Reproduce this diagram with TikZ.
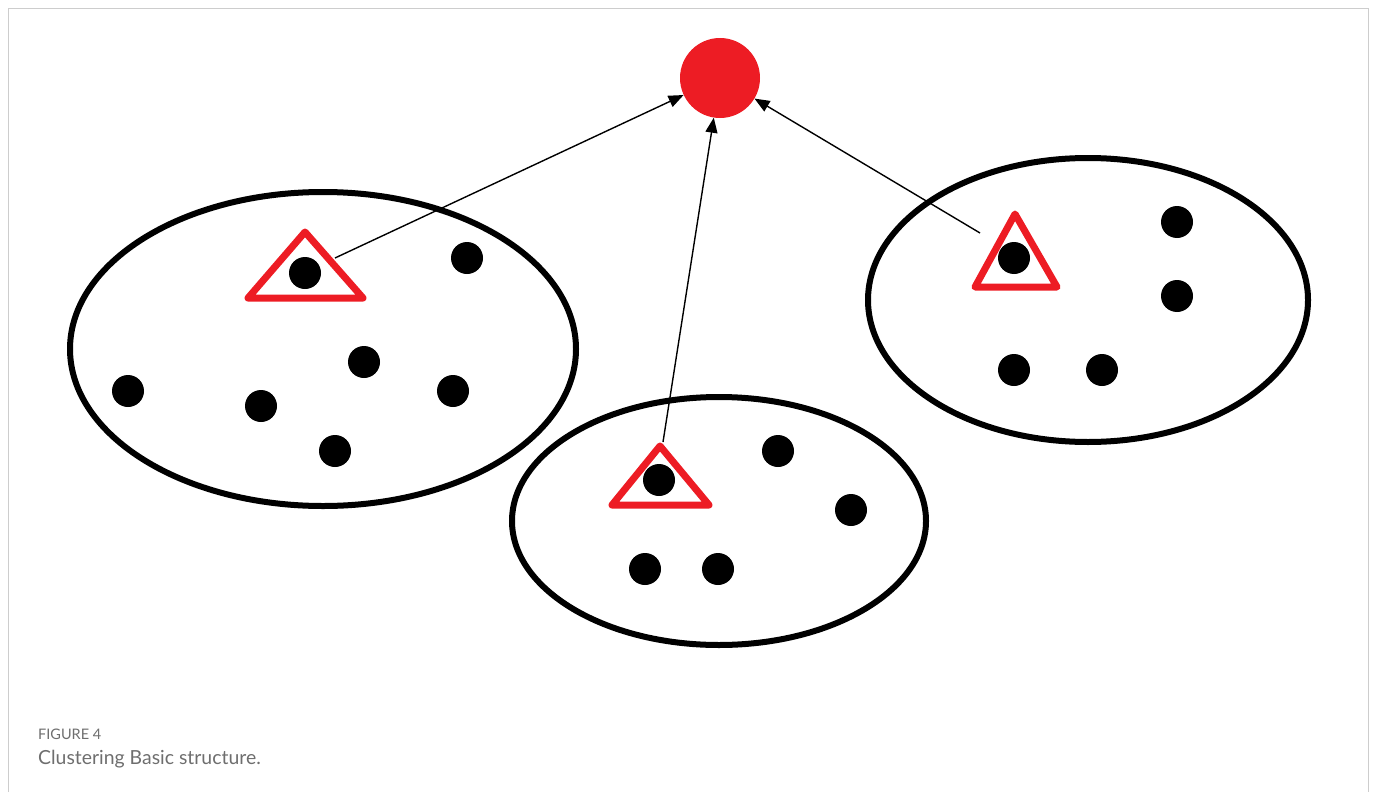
\documentclass[tikz,border=0pt]{standalone}
\usepackage{fontspec}
\setmainfont{Lato}
\usetikzlibrary{shapes.geometric,arrows.meta}
\definecolor{hubred}{HTML}{ED1C24}
\definecolor{capgray}{HTML}{6E6E6E}
\definecolor{framegray}{HTML}{CDCDCD}
\tikzset{
  cluster/.style={draw=black,line width=6pt,ellipse,inner sep=0pt},
  pt/.style={circle,fill=black,minimum size=32pt,inner sep=0pt},
  head/.style={draw=hubred,line width=7pt,line join=round},
  link/.style={draw=black,line width=1.4pt,-{Triangle[length=15pt,width=12pt]}},
}
\begin{document}
\begin{tikzpicture}[x=1pt,y=-1pt]
\useasboundingbox (0,0) rectangle (1375,792);
\draw[framegray,line width=1.5pt] (8.5,792) -- (8.5,8.5) -- (1368.5,8.5) -- (1368.5,792);
% hub
\node[circle,fill=hubred,minimum size=80pt,inner sep=0pt] (hub) at (720,78) {};
% clusters
\node[cluster,minimum width=506pt,minimum height=314pt] (c1) at (323,349) {};
\node[cluster,minimum width=414pt,minimum height=248pt] (c2) at (719,521) {};
\node[cluster,minimum width=440pt,minimum height=284pt] (c3) at (1088,300) {};
% heads (triangles)
\draw[head] (305,232) -- (363,298) -- (248,298) -- cycle;
\draw[head] (660,446) -- (709,505) -- (612,505) -- cycle;
\draw[head] (1015,214) -- (1057,287) -- (975,287) -- cycle;
% points
\node[pt] (p11) at (305,273) {};
\node[pt] (p12) at (467,258) {};
\node[pt] (p13) at (364,362) {};
\node[pt] (p14) at (128,391) {};
\node[pt] (p15) at (261,406) {};
\node[pt] (p16) at (453,391) {};
\node[pt] (p17) at (335,451) {};
\node[pt] (p21) at (659,480) {};
\node[pt] (p22) at (778,451) {};
\node[pt] (p23) at (851,510) {};
\node[pt] (p24) at (645,569) {};
\node[pt] (p25) at (718,569) {};
\node[pt] (p31) at (1014,258) {};
\node[pt] (p32) at (1177,222) {};
\node[pt] (p33) at (1177,296) {};
\node[pt] (p34) at (1014,370) {};
\node[pt] (p35) at (1102,370) {};
% connector starts
\coordinate (s1) at (335,258);
\coordinate (s2) at (663,442);
\coordinate (s3) at (980,233);
\draw[link] (s1) -- (hub);
\draw[link] (s2) -- (hub);
\draw[link] (s3) -- (hub);
% caption
\node[anchor=base west,inner sep=0pt,text=capgray,font=\fontsize{14.5}{17}\selectfont] (fig) at (38,739) {FIGURE 4};
\node[anchor=base west,inner sep=0pt,text=capgray,font=\fontsize{19.4}{23}\selectfont] (cap) at (38,764) {Clustering Basic structure.};
\end{tikzpicture}
\end{document}
